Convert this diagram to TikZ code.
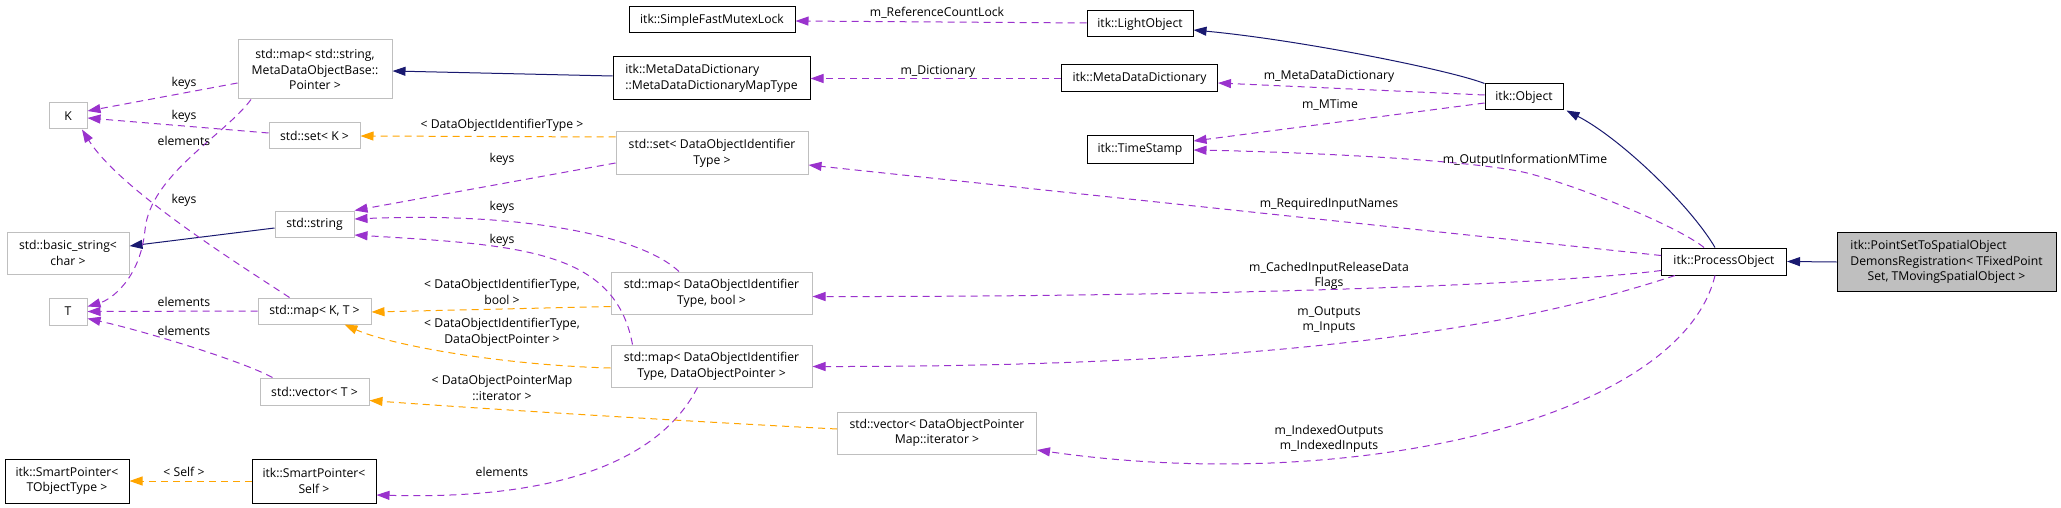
\documentclass[tikz,border=0pt]{standalone}
\usepackage{fontspec}
\setmainfont{Open Sans}
\usetikzlibrary{arrows.meta,calc}
\definecolor{navyc}{HTML}{191970}
\definecolor{purp}{HTML}{9A32CD}
\definecolor{orng}{HTML}{FFA500}
\definecolor{lgray}{HTML}{BFBFBF}
\newcommand\dfont{\fontsize{12.2}{15.6}\selectfont}
\begin{document}
\begin{tikzpicture}[x=1pt,y=-1pt,
  cls/.style={draw=black, line width=1pt, fill=white, inner sep=0pt, align=center, font=\dfont},
  ucls/.style={cls, draw=lgray},
  inh/.style={draw=navyc, line width=1pt, -{Triangle[length=13pt,width=9pt]}},
  use/.style={draw=purp, line width=1pt, dash pattern=on 7pt off 5pt, -{Triangle[length=13pt,width=9pt]}},
  tpl/.style={use, draw=orng},
  lbl/.style={font=\dfont, align=center, inner sep=0pt}]
\fill[white] (0,0) rectangle (2061,508);
\useasboundingbox (0,0) rectangle (2061,508);

% nodes
\node[ucls, minimum width=38pt, minimum height=26pt] (K) at (68,116) {K};
\node[ucls, minimum width=38pt, minimum height=27pt] (T) at (68,311.5) {T};
\node[ucls, minimum width=154pt, minimum height=59pt] (mapstr) at (315,69.5) {std::map< std::string,\\MetaDataObjectBase::\\Pointer >};
\node[ucls, minimum width=91pt, minimum height=26pt] (setK) at (314.5,136) {std::set< K >};
\node[ucls, minimum width=122pt, minimum height=42pt] (bstr) at (68,253) {std::basic\_string<\\char >};
\node[ucls, minimum width=79pt, minimum height=26pt] (str) at (314.5,224) {std::string};
\node[ucls, minimum width=113pt, minimum height=26pt] (mapKT) at (314.5,311) {std::map< K, T >};
\node[ucls, minimum width=109pt, minimum height=27pt] (vecT) at (314.5,391.5) {std::vector< T >};
\node[cls, minimum width=124pt, minimum height=44pt] (spTO) at (67,481) {itk::SmartPointer<\\TObjectType >};
\node[cls, minimum width=124pt, minimum height=44pt] (spSelf) at (314,481) {itk::SmartPointer<\\Self >};
\node[cls, minimum width=166pt, minimum height=26pt] (mutex) at (712,20) {itk::SimpleFastMutexLock};
\node[cls, minimum width=197pt, minimum height=43pt, align=left] (mddmt) at (711.5,78.5) {itk::MetaDataDictionary\\::MetaDataDictionaryMapType};
\node[ucls, minimum width=192pt, minimum height=42pt] (sdoit) at (712,153) {std::set< DataObjectIdentifier\\Type >};
\node[ucls, minimum width=201pt, minimum height=42pt] (mapb) at (711.5,293) {std::map< DataObjectIdentifier\\Type, bool >};
\node[ucls, minimum width=201pt, minimum height=42pt] (mapp) at (711.5,366) {std::map< DataObjectIdentifier\\Type, DataObjectPointer >};
\node[ucls, minimum width=199pt, minimum height=42pt] (vecit) at (937,433) {std::vector< DataObjectPointer\\Map::iterator >};
\node[cls, minimum width=106pt, minimum height=26pt] (light) at (1140,24) {itk::LightObject};
\node[cls, minimum width=156pt, minimum height=27pt] (mdd) at (1139.5,78.5) {itk::MetaDataDictionary};
\node[cls, minimum width=106pt, minimum height=27pt] (ts) at (1140,149.5) {itk::TimeStamp};
\node[cls, minimum width=78pt, minimum height=26pt] (obj) at (1524,97) {itk::Object};
\node[cls, minimum width=125pt, minimum height=27pt] (po) at (1724,261.5) {itk::ProcessObject};
\node[cls, fill=lgray, minimum width=219pt, minimum height=59pt] (ps) at (1946.5,262)
  {\begin{tabular}{@{}l@{}}itk::PointSetToSpatialObject\\DemonsRegistration< TFixedPoint\\\multicolumn{1}{@{}c@{}}{Set, TMovingSpatialObject >}\end{tabular}};

% inheritance
\draw[inh] (ps.west) -- (po.east);
\draw[inh] ($(po.north)+(-9,0)$) .. controls (1690,205) and (1620,138) .. ($(obj.south east)+(3,0)$);
\draw[inh] (obj.north west) .. controls (1450,70) and (1300,40) .. ($(light.east)+(0,6)$);
\draw[inh] ($(mddmt.west)+(0,-2.5)$) -- ($(mapstr.east)+(0,1.5)$);
\draw[inh] ($(str.west)+(0,4)$) -- ($(bstr.east)+(0,-7)$);

% usage (purple)
\draw[use] ($(light.west)+(0,-1)$) -- ($(mutex.east)+(0,1)$);
\draw[use] (mdd.west) -- (mddmt.east);
\draw[use] ($(obj.west)+(0,-2)$) -- ($(mdd.east)+(0,4.5)$);
\draw[use] ($(obj.west)+(0,6)$) -- ($(ts.east)+(0,-8.5)$);
\draw[use] ($(po.north)+(-20,0)$) .. controls (1680,228) and (1590,190) .. (1531,174)
  .. controls (1480,160) and (1300,152) .. ($(ts.east)+(0,0.5)$);
\draw[use] ($(po.west)+(0,-6)$) -- ($(sdoit.east)+(0,12)$);
\draw[use] ($(po.west)+(0,9)$) .. controls (1550,285) and (1200,297) .. ($(mapb.east)+(0,3.5)$);
\draw[use] ($(po.south west)+(14,0)$) .. controls (1540,320) and (1320,367) .. ($(mapp.east)+(0,0.5)$);
\draw[use] ($(po.south)+(-9,0)$) .. controls (1680,420) and (1350,495) .. ($(vecit.east)+(0,17)$);

\draw[use] ($(mapstr.west)+(0,13.5)$) -- ($(K.east)+(0,-5)$);
\draw[use] ($(setK.west)+(0,-3)$) -- ($(K.east)+(0,2)$);
\draw[use] ($(mapstr.south)+(-64,0)$) .. controls (225,135) and (150,175) .. (145,230)
  .. controls (140,280) and (110,300) .. ($(T.east)+(0,-5)$);
\draw[use] ($(mapKT.north)+(-25,0)$) .. controls (240,265) and (120,190) .. ($(K.south)+(14,0)$);
\draw[use] (mapKT.west) -- (T.east);
\draw[use] ($(vecT.north)+(-42,0)$) .. controls (240,360) and (140,330) .. ($(T.east)+(0,7)$);
\draw[use] ($(sdoit.west)+(0,10)$) -- (str.north east);
\draw[use] ($(mapb.north)+(-32.5,0)$) .. controls (640,235) and (520,212) .. ($(str.east)+(0,-5)$);
\draw[use] ($(mapp.north)+(-79,0)$) .. controls (615,250) and (520,245) .. ($(str.east)+(0,11)$);
\draw[use] ($(mapp.south)+(-14,0)$) .. controls (660,460) and (560,500) .. ($(spSelf.east)+(0,14)$);

% template (orange)
\draw[tpl] ($(sdoit.west)+(0,-16)$) -- (setK.east);
\draw[tpl] ($(mapb.west)+(0,13.5)$) -- ($(mapKT.east)+(0,1)$);
\draw[tpl] ($(mapp.west)+(0,2)$) .. controls (500,365) and (390,345) .. ($(mapKT.south east)+(-27,0)$);
\draw[tpl] ($(vecit.west)+(0,-4)$) .. controls (700,422) and (500,410) .. ($(vecT.east)+(0,9)$);
\draw[tpl] (spSelf.west) -- (spTO.east);

% labels
\node[lbl] (l1) at (937,13) {m\_ReferenceCountLock};
\node[lbl] (l2) at (938,71) {m\_Dictionary};
\node[lbl] (l3) at (1329,76) {m\_MetaDataDictionary};
\node[lbl] (l4) at (1330,105) {m\_MTime};
\node[lbl] (l5) at (1525,160) {m\_OutputInformationMTime};
\node[lbl] (l6) at (1329,204) {m\_RequiredInputNames};
\node[lbl] (l7) at (1329,276) {m\_CachedInputReleaseData\\Flags};
\node[lbl] (l8) at (1329,320) {m\_Outputs\\m\_Inputs};
\node[lbl] (l9) at (1329,439) {m\_IndexedOutputs\\m\_IndexedInputs};
\node[lbl] (l10) at (184,83) {keys};
\node[lbl] (l11) at (184,116) {keys};
\node[lbl] (l12) at (184,141) {elements};
\node[lbl] (l13) at (184,200) {keys};
\node[lbl] (l14) at (184,302) {elements};
\node[lbl] (l15) at (184,331) {elements};
\node[lbl] (l16) at (184,472) {< Self >};
\node[lbl] (l17) at (502,125) {< DataObjectIdentifierType >};
\node[lbl] (l18) at (502,159) {keys};
\node[lbl] (l19) at (502,207.5) {keys};
\node[lbl] (l20) at (502,240) {keys};
\node[lbl] (l21) at (502,292) {< DataObjectIdentifierType,\\bool >};
\node[lbl] (l22) at (502,332.5) {< DataObjectIdentifierType,\\DataObjectPointer >};
\node[lbl] (l23) at (502,388) {< DataObjectPointerMap\\::iterator >};
\node[lbl] (l24) at (502,472) {elements};
\end{tikzpicture}
\end{document}
